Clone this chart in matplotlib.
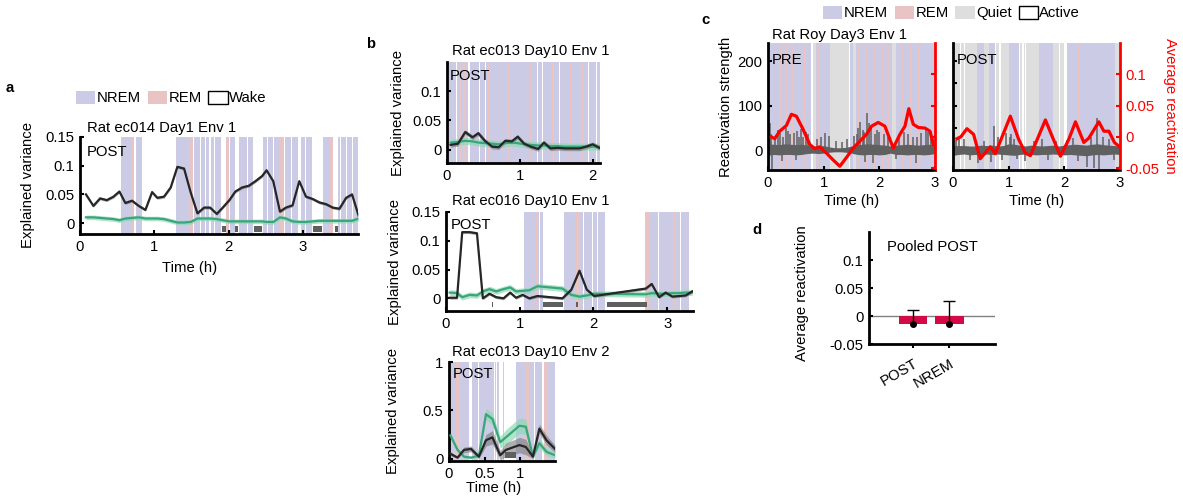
import numpy as np
import matplotlib.pyplot as plt
import matplotlib.patches as mpatches

plt.rcParams['font.family'] = ['Liberation Sans', 'DejaVu Sans']
FS = 10.7
plt.rcParams['font.size'] = FS

W, H = 1183, 500

NREM_C = '#cbcbe6'
REM_C = '#e9c4c4'
QUIET_C = '#dedede'
WAKE_BAR = '#5f5f5f'
EV_C = '#262626'
REV_C = '#3aa57a'
RED = '#ff0000'
BAR_C = '#d20a46'
SIG_C = '#606060'

# ---- panel a: ec014 day1 env1 ----
a_t = [0.08, 0.18, 0.27, 0.36, 0.45, 0.53, 0.61, 0.70, 0.79, 0.88, 0.97, 1.04, 1.13, 1.22, 1.31,
       1.40, 1.49, 1.58, 1.67, 1.75, 1.84, 1.92, 2.01, 2.09, 2.18, 2.27, 2.36, 2.45, 2.51, 2.60,
       2.69, 2.77, 2.86, 2.95, 3.04, 3.13, 3.22, 3.31, 3.40, 3.49, 3.58, 3.66, 3.75]
a_ev = [0.050, 0.030, 0.043, 0.040, 0.046, 0.055, 0.035, 0.039, 0.030, 0.023, 0.054, 0.044, 0.046,
        0.062, 0.098, 0.095, 0.053, 0.017, 0.027, 0.027, 0.016, 0.027, 0.040, 0.055, 0.062, 0.065,
        0.073, 0.082, 0.092, 0.073, 0.020, 0.027, 0.031, 0.073, 0.046, 0.042, 0.036, 0.033, 0.027,
        0.025, 0.044, 0.050, 0.012]
a_rev = [0.010, 0.010, 0.009, 0.008, 0.007, 0.005, 0.008, 0.009, 0.010, 0.008, 0.008, 0.008, 0.007,
         0.004, 0.001, 0.001, 0.002, 0.008, 0.008, 0.008, 0.007, 0.005, 0.003, 0.003, 0.003, 0.003,
         0.003, 0.003, 0.002, 0.002, 0.010, 0.008, 0.003, 0.002, 0.002, 0.003, 0.004, 0.004, 0.004,
         0.004, 0.004, 0.004, 0.008]
a_ev_sem = 0.0025
a_rev_sem = 0.004
a_nrem = [(0.55, 0.69), (0.76, 0.83), (1.29, 1.47), (1.53, 1.57), (1.58, 1.62), (1.63, 1.68),
          (1.69, 1.74), (1.76, 1.80), (1.81, 1.90), (2.02, 2.08), (2.14, 2.20), (2.21, 2.25),
          (2.26, 2.33), (2.46, 2.52), (2.53, 2.60), (2.61, 2.68), (2.76, 2.84), (2.85, 2.93),
          (2.97, 3.03), (3.04, 3.12), (3.27, 3.35), (3.47, 3.50), (3.51, 3.58), (3.59, 3.66),
          (3.67, 3.72)]
a_rem = [(0.69, 0.73), (1.47, 1.52), (1.96, 2.01), (2.68, 2.75), (3.35, 3.41), (3.72, 3.74)]
a_wake = [(1.91, 1.96), (2.09, 2.13), (2.34, 2.45), (3.13, 3.26), (3.43, 3.47)]

# ---- panel b, top: ec013 day10 env1 ----
b1_t = [0.05, 0.15, 0.25, 0.35, 0.43, 0.52, 0.62, 0.71, 0.80, 0.89, 0.97, 1.06, 1.15, 1.25, 1.33,
        1.42, 1.52, 1.62, 1.72, 1.82, 1.91, 2.00, 2.09]
b1_ev = [0.008, 0.010, 0.030, 0.021, 0.028, 0.015, 0.005, 0.004, 0.015, 0.014, 0.022, 0.010, 0.005,
         0.001, 0.012, 0.002, 0.003, 0.002, 0.002, 0.002, 0.005, 0.009, 0.003]
b1_rev = [0.012, 0.013, 0.015, 0.014, 0.012, 0.011, 0.010, 0.009, 0.011, 0.012, 0.011, 0.009, 0.008,
          0.007, 0.007, 0.006, 0.006, 0.005, 0.005, 0.005, 0.005, 0.005, 0.005]
b1_ev_sem = 0.004
b1_rev_sem = 0.006
b1_nrem = [(0.01, 0.13), (0.14, 0.29), (0.31, 0.44), (0.45, 0.52), (0.53, 0.93), (0.94, 1.05),
           (1.06, 1.24), (1.25, 1.31), (1.32, 1.54), (1.55, 1.63), (1.64, 1.78), (1.79, 1.94),
           (1.95, 2.05), (2.06, 2.10)]
b1_rem = [(0.18, 0.20), (0.22, 0.26), (0.56, 0.58), (0.83, 0.86), (1.14, 1.16), (1.44, 1.47),
          (1.69, 1.71), (1.84, 1.88)]

# ---- panel b, middle: ec016 day10 env1 ----
b2_t = [0.05, 0.15, 0.22, 0.32, 0.42, 0.50, 0.59, 0.68, 0.78, 0.87, 0.95, 1.04, 1.13, 1.24, 1.58,
        1.70, 1.81, 1.91, 2.01, 2.71, 2.79, 2.89, 2.98, 3.07, 3.16, 3.25, 3.34]
b2_ev = [0.001, 0.001, 0.115, 0.115, 0.113, 0.000, 0.008, 0.002, 0.000, 0.010, 0.001, 0.006, 0.000,
         0.004, 0.000, 0.015, 0.048, 0.015, 0.004, 0.017, 0.025, 0.002, 0.010, 0.003, 0.004, 0.005,
         0.012]
b2_rev = [0.010, 0.009, 0.002, 0.006, 0.005, 0.012, 0.016, 0.012, 0.016, 0.019, 0.012, 0.013, 0.014,
          0.021, 0.017, 0.006, 0.003, 0.005, 0.008, 0.007, 0.009, 0.008, 0.008, 0.009, 0.009, 0.010,
          0.010]
b2_ev_sem = 0.0025
b2_rev_sem = 0.005
b2_nrem = [(1.06, 1.22), (1.24, 1.26), (1.27, 1.31), (1.60, 1.75), (1.81, 1.86), (1.87, 1.91),
           (1.93, 1.98), (1.99, 2.05), (2.06, 2.11), (2.12, 2.16), (2.75, 2.87), (2.89, 3.08),
           (3.12, 3.18), (3.19, 3.25), (3.26, 3.30)]
b2_rem = [(1.22, 1.24), (1.75, 1.77), (1.78, 1.80), (1.91, 1.92), (2.70, 2.75), (3.08, 3.12)]
b2_wake = [(0.625, 0.64), (1.32, 1.59), (1.76, 1.79), (2.18, 2.72)]

# ---- panel b, bottom: ec013 day10 env2 ----
b3_t = [0.02, 0.12, 0.21, 0.31, 0.42, 0.52, 0.61, 0.72, 0.80, 0.99, 1.08, 1.18, 1.27, 1.37, 1.49]
b3_ev = [0.05, 0.01, 0.09, 0.10, 0.02, 0.19, 0.22, 0.035, 0.09, 0.14, 0.12, 0.02, 0.31, 0.19, 0.10]
b3_rev = [0.24, 0.09, 0.02, 0.01, 0.03, 0.46, 0.41, 0.17, 0.22, 0.34, 0.33, 0.02, 0.16, 0.07, 0.035]
b3_ev_sem = [0.02, 0.01, 0.03, 0.03, 0.02, 0.06, 0.07, 0.05, 0.07, 0.08, 0.08, 0.02, 0.05, 0.05, 0.04]
b3_rev_sem = [0.03, 0.03, 0.02, 0.01, 0.02, 0.06, 0.06, 0.06, 0.08, 0.08, 0.08, 0.02, 0.05, 0.04, 0.03]
b3_nrem = [(0.02, 0.10), (0.16, 0.28), (0.33, 0.41), (0.42, 0.53), (0.54, 0.63), (0.67, 0.70),
           (0.76, 0.78), (0.94, 1.08), (1.12, 1.20), (1.21, 1.31), (1.39, 1.49)]
b3_rem = [(0.10, 0.15), (0.53, 0.54), (0.64, 0.66), (1.08, 1.12), (1.34, 1.39)]
b3_wake = [(0.79, 0.94)]

# ---- panel c: Roy day3 env1, reactivation strength ----
c_grid = np.linspace(0, 3, 31)
pre_hi = [14, 13, 12, 14, 13, 12, 13, 11, 9, 9, 10, 7, 5, 5, 6, 9, 12, 13, 14, 13, 12, 11, 9,
          11, 12, 13, 12, 11, 12, 13, 11]
pre_lo = [-12, -10, -11, -10, -10, -11, -10, -8, -7, -8, -7, -5, -4, -4, -5, -7, -10, -11, -10,
          -10, -11, -10, -7, -10, -10, -11, -10, -10, -11, -10, -8]
pre_spk_t = [0.01, 0.03, 0.05, 0.08, 0.12, 0.18, 0.22, 0.25, 0.27, 0.33, 0.36, 0.40, 0.47, 0.50,
             0.52, 0.56, 0.60, 0.63, 0.68, 0.72, 0.88, 0.95, 1.02, 1.10, 1.22, 1.33, 1.42, 1.55,
             1.60, 1.62, 1.66, 1.70, 1.72, 1.75, 1.78, 1.82, 1.85, 1.88, 1.92, 1.95, 2.00, 2.08,
             2.15, 2.30, 2.35, 2.45, 2.52, 2.60, 2.65, 2.68, 2.75, 2.83, 2.88, 2.92, 2.97]
pre_spk = [55, 60, 35, -42, 28, 45, 38, -25, 30, 50, 42, 35, 38, -22, 42, 30, 48, 30, 40, 35, 25,
           30, 38, 32, 20, 18, 25, 32, 35, 50, 62, 45, 40, -28, 84, 60, 55, -30, 35, 45, 40, 35,
           30, -20, 28, 40, 35, 30, -30, 30, 38, 48, 40, 42, 25]
post_hi = [10, 10, 10, 9, 9, 11, 10, 11, 9, 10, 14, 13, 11, 9, 11, 10, 9, 10, 11, 9, 11, 12, 13,
           12, 11, 13, 14, 12, 11, 10, 9]
post_lo = [-12, -10, -9, -11, -10, -12, -9, -10, -9, -10, -11, -12, -10, -9, -10, -11, -10, -10,
           -9, -10, -11, -10, -11, -12, -13, -11, -10, -11, -10, -9, -10]
post_spk_t = [0.05, 0.10, 0.20, 0.30, 0.45, 0.55, 0.68, 0.73, 0.80, 0.88, 0.95, 1.02, 1.05, 1.10,
              1.15, 1.30, 1.45, 1.60, 1.70, 1.85, 2.05, 2.15, 2.25, 2.40, 2.48, 2.53, 2.58, 2.62,
              2.70, 2.80, 2.90]
post_spk = [22, 30, 25, -22, -30, 20, -28, 53, 30, -22, 38, 30, 35, 25, -20, -25, 20, 25, -22, 20,
            22, 28, -25, -38, 30, -40, 72, -45, 30, 25, -22]

pre_t = [0.06, 0.12, 0.21, 0.33, 0.42, 0.51, 0.63, 0.75, 0.84, 0.93, 1.05, 1.17, 1.29, 1.41, 1.53,
         1.65, 1.77, 1.86, 1.98, 2.10, 2.25, 2.37, 2.46, 2.53, 2.61, 2.70, 2.82, 2.91, 2.97]
pre_avg = [0.000, -0.003, 0.009, 0.018, 0.036, 0.033, 0.012, -0.012, -0.019, -0.016, -0.026, -0.037,
           -0.047, -0.033, -0.018, -0.007, 0.004, 0.017, 0.023, 0.017, -0.018, 0.004, 0.017, 0.045,
           0.020, 0.015, 0.014, 0.009, -0.012]
post_t = [0.07, 0.14, 0.25, 0.37, 0.49, 0.67, 0.76, 1.03, 1.18, 1.30, 1.39, 1.66, 1.78, 1.93, 2.08,
          2.20, 2.35, 2.44, 2.62, 2.71, 2.80, 2.90, 2.98]
post_avg = [-0.003, 0.000, 0.013, 0.004, -0.035, -0.016, -0.027, 0.033, -0.004, -0.026, -0.030, 0.027,
            0.001, -0.031, -0.004, 0.024, -0.009, -0.002, 0.024, 0.009, 0.009, -0.009, -0.015]

pre_nrem = [(0.0, 0.78), (0.86, 1.12), (1.47, 1.52), (1.58, 2.22), (2.30, 3.0)]
pre_rem = [(0.05, 0.08), (0.20, 0.23), (0.33, 0.36), (0.43, 0.46), (0.55, 0.58), (0.65, 0.68),
           (0.90, 0.92), (0.98, 1.00), (1.62, 1.65), (1.75, 1.78), (1.90, 1.93), (2.05, 2.08),
           (2.15, 2.18), (2.40, 2.43), (2.55, 2.58), (2.70, 2.73), (2.85, 2.88)]
pre_quiet = [(0.81, 0.86), (1.12, 1.45), (1.53, 1.58), (2.22, 2.30)]
post_nrem = [(0.43, 0.55), (0.64, 0.76), (1.0, 1.18), (1.54, 1.80), (2.04, 2.91)]
post_rem = [(1.72, 1.73), (2.25, 2.26), (2.33, 2.34), (2.85, 2.86)]
post_quiet = [(0.0, 0.13), (0.15, 0.19), (0.21, 0.43), (0.55, 0.64), (0.78, 0.82), (0.86, 1.0),
              (1.20, 1.24), (1.27, 1.30), (1.32, 1.54), (1.80, 1.90), (1.92, 2.0), (2.91, 3.0)]

# ---- panel d: pooled POST ----
d_cats = ['POST', 'NREM']
d_mean = [-0.014, -0.014]
d_err_hi = [0.0243, 0.0406]


fig = plt.figure(figsize=(W / 100, H / 100), dpi=100)


def add_ax(x0, y0, x1, y1):
    return fig.add_axes((x0 / W, 1 - y1 / H, (x1 - x0) / W, (y1 - y0) / H))


def ftext(x, y, s, **kw):
    fig.text(x / W, 1 - y / H, s, **kw)


def style_ax(ax):
    for s in ['top', 'right']:
        ax.spines[s].set_visible(False)
    for s in ['left', 'bottom']:
        ax.spines[s].set_linewidth(2)
    ax.tick_params(direction='in', length=3, width=1.5, labelsize=FS, pad=4)


def shade(ax, spans, color):
    for s, e in spans:
        ax.axvspan(s, e, color=color, lw=0, zorder=0)


def trace(ax, t, v, sem, color, band, alpha):
    t = np.asarray(t)
    v = np.asarray(v)
    sem = np.asarray(sem)
    ax.fill_between(t, v - sem, v + sem, color=band, lw=0, alpha=alpha, zorder=2)
    ax.plot(t, v, color=color, lw=1.6, zorder=3)


def wake_bars(ax, spans, y0, h):
    for s, e in spans:
        ax.add_patch(mpatches.Rectangle((s, y0), e - s, h, color=WAKE_BAR, lw=0, zorder=4))


def ev_panel(ax, t, ev, ev_sem, rev, rev_sem, nrem, rem):
    style_ax(ax)
    shade(ax, nrem, NREM_C)
    shade(ax, rem, REM_C)
    trace(ax, t, rev, rev_sem, REV_C, '#8fd9b4', 0.7)
    trace(ax, t, ev, ev_sem, EV_C, '#7a7a7a', 0.6)


# panel a
ax_a = add_ax(80, 137, 358, 234)
ev_panel(ax_a, a_t, a_ev, a_ev_sem, a_rev, a_rev_sem, a_nrem, a_rem)
wake_bars(ax_a, a_wake, -0.015, 0.010)
ax_a.set_xlim(0, 3.74)
ax_a.set_ylim(-0.019, 0.15)
ax_a.set_xticks([0, 1, 2, 3])
ax_a.set_yticks([0, 0.05, 0.1, 0.15], ['0', '0.05', '0.1', '0.15'])
ax_a.text(0.025, 0.85, 'POST', transform=ax_a.transAxes, va='center', zorder=5)
ftext(87, 128, 'Rat ec014 Day1 Env 1', ha='left', va='center')
ftext(28, 185, 'Explained variance', rotation=90, ha='center', va='center')
ftext(190, 268, 'Time (h)', ha='center', va='center')
ftext(10, 88, 'a', fontweight='bold', ha='center', va='center')

leg_a = [mpatches.Patch(facecolor=NREM_C, edgecolor='none', label='NREM'),
         mpatches.Patch(facecolor=REM_C, edgecolor='none', label='REM'),
         mpatches.Patch(facecolor='white', edgecolor='black', lw=1, label='Wake')]
fig.legend(handles=leg_a, loc='center left', bbox_to_anchor=(76 / W, 1 - 98 / H), ncol=3,
           frameon=False, handlelength=1.3, handleheight=1.0, handletextpad=0.1,
           columnspacing=0.45, borderpad=0, borderaxespad=0, fontsize=FS)

# panel b, top
ax_b1 = add_ax(447, 62, 600, 163)
ev_panel(ax_b1, b1_t, b1_ev, b1_ev_sem, b1_rev, b1_rev_sem, b1_nrem, b1_rem)
ax_b1.set_xlim(0, 2.1)
ax_b1.set_ylim(-0.023, 0.15)
ax_b1.set_xticks([0, 1, 2])
ax_b1.set_yticks([0, 0.05, 0.1], ['0', '0.05', '0.1'])
ax_b1.text(0.02, 0.86, 'POST', transform=ax_b1.transAxes, va='center', zorder=5)
ftext(452, 51, 'Rat ec013 Day10 Env 1', ha='left', va='center')
ftext(398, 113, 'Explained variance', rotation=90, ha='center', va='center')
ftext(371, 44, 'b', fontweight='bold', ha='center', va='center')

# panel b, middle
ax_b2 = add_ax(446, 212, 693, 311)
ev_panel(ax_b2, b2_t, b2_ev, b2_ev_sem, b2_rev, b2_rev_sem, b2_nrem, b2_rem)
wake_bars(ax_b2, b2_wake, -0.0157, 0.0097)
ax_b2.set_xlim(0, 3.35)
ax_b2.set_ylim(-0.022, 0.15)
ax_b2.set_xticks([0, 1, 2, 3])
ax_b2.set_yticks([0, 0.05, 0.1, 0.15], ['0', '0.05', '0.1', '0.15'])
ax_b2.text(0.02, 0.87, 'POST', transform=ax_b2.transAxes, va='center', zorder=5)
ftext(452, 201, 'Rat ec016 Day10 Env 1', ha='left', va='center')
ftext(395, 262, 'Explained variance', rotation=90, ha='center', va='center')

# panel b, bottom
ax_b3 = add_ax(449, 362, 555, 461)
ev_panel(ax_b3, b3_t, b3_ev, b3_ev_sem, b3_rev, b3_rev_sem, b3_nrem, b3_rem)
wake_bars(ax_b3, b3_wake, 0.01, 0.06)
ax_b3.set_xlim(0, 1.49)
ax_b3.set_ylim(-0.025, 1.0)
ax_b3.set_xticks([0, 0.5, 1], ['0', '0.5', '1'])
ax_b3.set_yticks([0, 0.5, 1], ['0', '0.5', '1'])
ax_b3.text(0.04, 0.88, 'POST', transform=ax_b3.transAxes, va='center', zorder=5)
ftext(452, 352, 'Rat ec013 Day10 Env 2', ha='left', va='center')
ftext(393, 411, 'Explained variance', rotation=90, ha='center', va='center')
ftext(494, 488, 'Time (h)', ha='center', va='center')


# panel c
def react_panel(ax, hi, lo, spk_t, spk, tt, avg, nrem, rem, quiet, label):
    style_ax(ax)
    shade(ax, quiet, QUIET_C)
    shade(ax, nrem, NREM_C)
    shade(ax, rem, REM_C)
    ax.fill_between(c_grid, lo, hi, color=SIG_C, lw=0, zorder=2)
    ax.vlines(spk_t, 0, spk, color=SIG_C, lw=1.1, zorder=2)
    ax.set_xlim(0, 3)
    ax.set_ylim(-45, 241)
    ax.set_xticks([0, 1, 2, 3])
    ax.set_xlabel('Time (h)', labelpad=3)
    ax.text(0.02, 0.87, label, transform=ax.transAxes, va='center', zorder=5)
    axr = ax.twinx()
    axr.plot(tt, avg, color=RED, lw=2.3, zorder=3)
    axr.set_ylim(-0.053, 0.15)
    for s in ['top', 'left']:
        axr.spines[s].set_visible(False)
    axr.spines['right'].set_color(RED)
    axr.spines['right'].set_linewidth(2)
    axr.set_yticks([-0.05, 0, 0.05, 0.1], ['-0.05', '0', '0.05', '0.1'])
    axr.tick_params(direction='in', length=3, width=1.5, colors=RED, labelsize=FS, pad=4)
    return axr


ax_c1 = add_ax(768, 43, 935, 170)
axr1 = react_panel(ax_c1, pre_hi, pre_lo, pre_spk_t, pre_spk, pre_t, pre_avg,
                   pre_nrem, pre_rem, pre_quiet, 'PRE')
ax_c1.set_yticks([0, 100, 200])
axr1.tick_params(labelright=False)
ftext(772, 35, 'Rat Roy Day3 Env 1', ha='left', va='center')
ftext(726, 107, 'Reactivation strength', rotation=90, ha='center', va='center')
ftext(705, 20, 'c', fontweight='bold', ha='center', va='center')

ax_c2 = add_ax(953, 43, 1120, 170)
axr2 = react_panel(ax_c2, post_hi, post_lo, post_spk_t, post_spk, post_t, post_avg,
                   post_nrem, post_rem, post_quiet, 'POST')
ax_c2.set_yticks([0, 50, 100, 150, 200])
ax_c2.tick_params(labelleft=False)
ftext(1170, 106, 'Average reactivation', rotation=270, ha='center', va='center', color=RED)

leg_c = [mpatches.Patch(facecolor=NREM_C, edgecolor='none', label='NREM'),
         mpatches.Patch(facecolor=REM_C, edgecolor='none', label='REM'),
         mpatches.Patch(facecolor=QUIET_C, edgecolor='none', label='Quiet'),
         mpatches.Patch(facecolor='white', edgecolor='black', lw=1, label='Active')]
fig.legend(handles=leg_c, loc='center left', bbox_to_anchor=(823 / W, 1 - 13 / H), ncol=4,
           frameon=False, handlelength=1.3, handleheight=1.0, handletextpad=0.1,
           columnspacing=0.45, borderpad=0, borderaxespad=0, fontsize=FS)

# panel d
ax_d = add_ax(869, 232, 995, 344)
style_ax(ax_d)
xd = np.arange(1, len(d_cats) + 1)
ax_d.axhline(0, color='#808080', lw=1, zorder=1)
ax_d.bar(xd, d_mean, width=0.79, color=BAR_C, zorder=2)
eb = ax_d.errorbar(xd, d_mean, yerr=[[0] * len(d_mean), d_err_hi], fmt='o', color='black',
                   ms=4, elinewidth=1, capsize=4.5, capthick=1, zorder=3)
eb[1][0].set_visible(False)
ax_d.set_xlim(-0.205, 3.25)
ax_d.set_ylim(-0.05, 0.15)
ax_d.set_yticks([-0.05, 0, 0.05, 0.1], ['-0.05', '0', '0.05', '0.1'])
ax_d.set_xticks(xd)
ax_d.set_xticklabels(d_cats, rotation=30, ha='right', rotation_mode='anchor')
ax_d.tick_params(axis='x', direction='out', pad=6)
ax_d.text(0.5, 0.87, 'Pooled POST', transform=ax_d.transAxes, ha='center', va='center')
ftext(802, 293, 'Average reactivation', rotation=90, ha='center', va='center')
ftext(757, 230, 'd', fontweight='bold', ha='center', va='center')

fig.savefig('out.png', dpi=100)
